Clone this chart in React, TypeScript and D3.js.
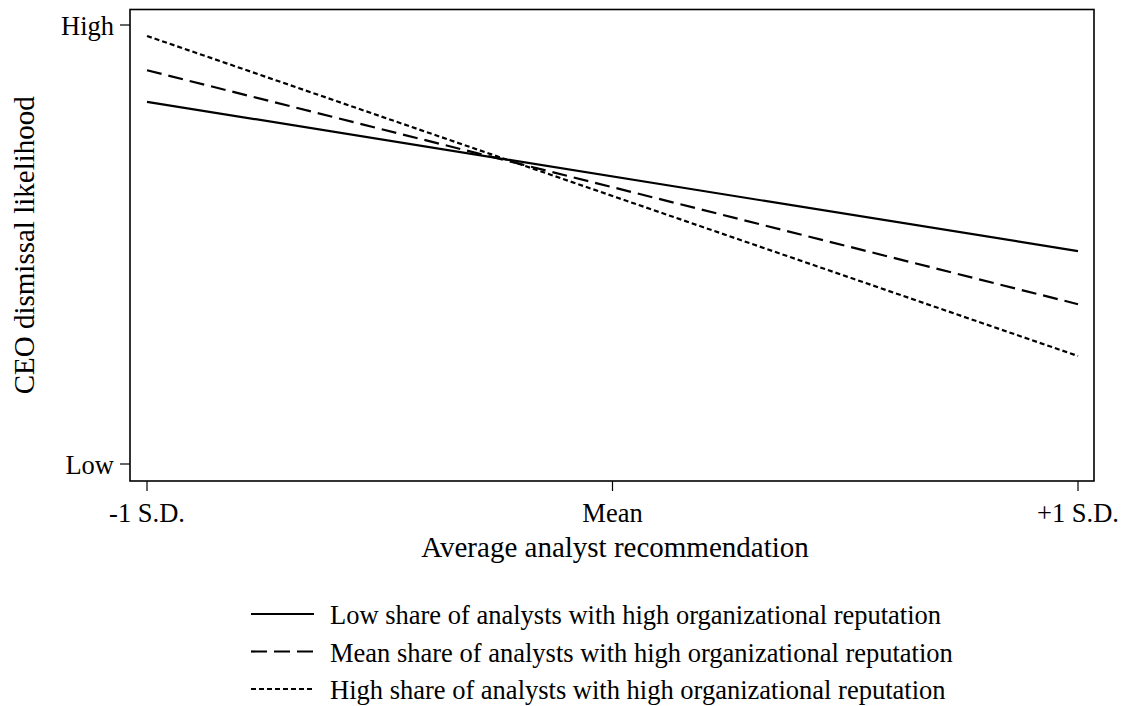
import React from "react";
import * as d3 from "d3";

// x positions: -1 S.D., +1 S.D.
const xLevels = [-1, 1];
const xTickValues = [-1, 0, 1];
const xTickLabels = ["-1 S.D.", "Mean", "+1 S.D."];
const yTickValues = [0, 1];
const yTickLabels = ["Low", "High"];

// predicted dismissal likelihood (0 = Low, 1 = High)
const lowShare = [0.825, 0.485];
const meanShare = [0.897, 0.364];
const highShare = [0.975, 0.246];

const seriesNames = [
  "Low share of analysts with high organizational reputation",
  "Mean share of analysts with high organizational reputation",
  "High share of analysts with high organizational reputation",
];

const W = 1123;
const H = 706;
const FONT = "Liberation Serif, Times New Roman, Times, serif";

const frame = { left: 130, right: 1094, top: 9.5, bottom: 481 };

const App = () => {
  const x = d3.scaleLinear().domain([-1, 1]).range([147, 1078]);
  const y = d3.scaleLinear().domain([0, 1]).range([464, 25]);

  const line = d3
    .line<[number, number]>()
    .x((d) => x(d[0]))
    .y((d) => y(d[1]));

  const series = [
    { name: seriesNames[0], values: lowShare, dash: null },
    { name: seriesNames[1], values: meanShare, dash: "15 7" },
    { name: seriesNames[2], values: highShare, dash: "5 3" },
  ];

  const legendY = [614, 651.5, 689];

  return (
    <svg
      width={W}
      height={H}
      style={{ position: "absolute", left: 0, top: 0, background: "#fff", fontFamily: FONT }}
    >
      <rect x={0} y={0} width={W} height={H} fill="#fff" />

      {/* plot frame */}
      <rect
        x={frame.left}
        y={frame.top}
        width={frame.right - frame.left}
        height={frame.bottom - frame.top}
        fill="none"
        stroke="#000"
        strokeWidth={1.6}
      />

      {/* y axis ticks */}
      {yTickValues.map((v, i) => (
        <g key={"y" + i}>
          <line x1={frame.left - 10} x2={frame.left} y1={y(v)} y2={y(v)} stroke="#000" strokeWidth={1.2} />
          <text x={frame.left - 16} y={y(v)} dy="0.36em" textAnchor="end" fontSize={26.5} fill="#000">
            {yTickLabels[i]}
          </text>
        </g>
      ))}

      {/* x axis ticks */}
      {xTickValues.map((v, i) => (
        <g key={"x" + i}>
          <line x1={x(v)} x2={x(v)} y1={frame.bottom} y2={frame.bottom + 10} stroke="#000" strokeWidth={1.2} />
          <text x={x(v)} y={521.5} textAnchor="middle" fontSize={26.5} fill="#000">
            {xTickLabels[i]}
          </text>
        </g>
      ))}

      {/* axis titles */}
      <text x={615} y={557} textAnchor="middle" fontSize={29} fill="#000">
        Average analyst recommendation
      </text>
      <text
        transform={`translate(34,${(frame.top + frame.bottom) / 2}) rotate(-90)`}
        textAnchor="middle"
        fontSize={29}
        fill="#000"
      >
        CEO dismissal likelihood
      </text>

      {/* lines */}
      {series.map((s, i) => (
        <path
          key={"s" + i}
          d={line(xLevels.map((xv, j) => [xv, s.values[j]]) as [number, number][]) || ""}
          fill="none"
          stroke="#000"
          strokeWidth={2.2}
          strokeDasharray={s.dash || undefined}
        />
      ))}

      {/* legend */}
      {series.map((s, i) => (
        <g key={"l" + i}>
          <line
            x1={251}
            x2={314}
            y1={legendY[i]}
            y2={legendY[i]}
            stroke="#000"
            strokeWidth={2.2}
            strokeDasharray={s.dash ? (i === 1 ? "16 7" : "5 3") : undefined}
          />
          <text x={330} y={legendY[i] + 10} fontSize={26.5} fill="#000">
            {s.name}
          </text>
        </g>
      ))}
    </svg>
  );
};

export default App;
